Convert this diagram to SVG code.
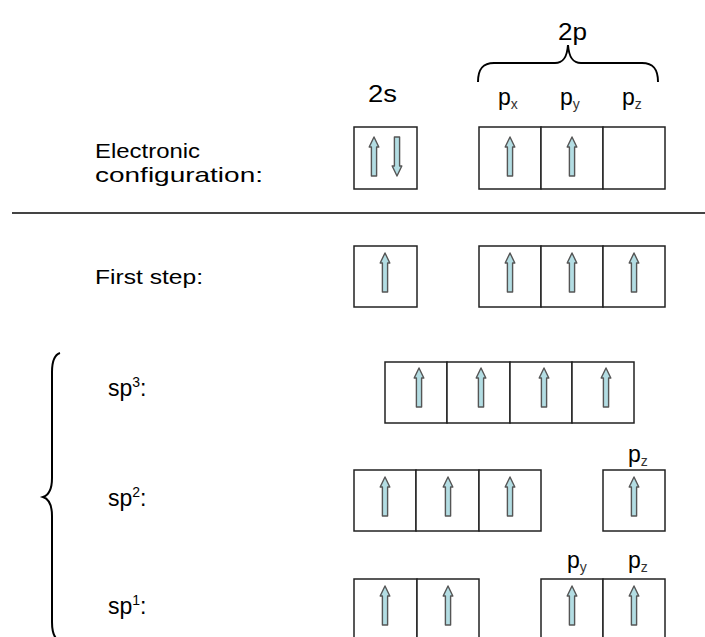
<svg xmlns="http://www.w3.org/2000/svg" xmlns:xlink="http://www.w3.org/1999/xlink" width="705" height="637" viewBox="0 0 705 637">
  <style>
    .lbl { font-family: "Liberation Sans", Arial, sans-serif; font-size: 21px; fill: #000; }
    .orb { font-family: "Liberation Sans", Arial, sans-serif; font-size: 23px; fill: #000; }
    .sub { font-size: 14px; fill: #333; }
    .sup { font-size: 14px; }
    .box { fill: #fff; stroke: #222; stroke-width: 1.5; }
    .brace { fill: none; stroke: #000; stroke-width: 2; }
    .rule { stroke: #444; stroke-width: 2; }
  </style>
  <defs>
    <!-- spin arrow, tip at origin pointing up -->
    <path id="up" d="M0,0 L4.8,10 L2.6,10 L2.6,39 L-2.6,39 L-2.6,10 L-4.8,10 Z" fill="#b3dde3" stroke="#555" stroke-width="1.4" stroke-linejoin="round"/>
  </defs>
  <rect width="705" height="637" fill="#fff"/>

  <!-- header labels -->
  <g id="header">
    <text class="orb" x="368" y="102" textLength="29" lengthAdjust="spacingAndGlyphs">2s</text>
    <text class="orb" x="558" y="40" textLength="29" lengthAdjust="spacingAndGlyphs">2p</text>
    <path class="brace" d="M478,82 C478,70 482,63 494,63 L555,63 C563,63 567,58 568,45 C569,58 573,63 581,63 L642,63 C654,63 658,70 658,82"/>
    <text class="orb" x="498" y="105">p<tspan class="sub" dy="4">x</tspan></text>
    <text class="orb" x="560" y="105">p<tspan class="sub" dy="4">y</tspan></text>
    <text class="orb" x="622" y="105">p<tspan class="sub" dy="4">z</tspan></text>
  </g>

  <!-- ground-state configuration -->
  <g id="electronic-configuration">
    <text class="lbl" x="95" y="158" textLength="105" lengthAdjust="spacingAndGlyphs">Electronic</text>
    <text class="lbl" x="95" y="182" textLength="168" lengthAdjust="spacingAndGlyphs">configuration:</text>
    <rect class="box" x="354" y="127" width="63" height="62"/>
    <use xlink:href="#up" x="374" y="137"/>
    <use xlink:href="#up" transform="translate(397,176) rotate(180)"/>
    <rect class="box" x="479" y="127" width="62" height="62"/>
    <rect class="box" x="541" y="127" width="62" height="62"/>
    <rect class="box" x="603" y="127" width="62" height="62"/>
    <use xlink:href="#up" x="510" y="137"/>
    <use xlink:href="#up" x="572" y="137"/>
  </g>

  <line class="rule" x1="12" y1="213" x2="705" y2="213"/>

  <!-- promotion of one 2s electron -->
  <g id="first-step">
    <text class="lbl" x="95" y="284" textLength="108" lengthAdjust="spacingAndGlyphs">First step:</text>
    <rect class="box" x="354" y="246" width="63" height="61"/>
    <use xlink:href="#up" x="385" y="253"/>
    <rect class="box" x="479" y="246" width="62" height="61"/>
    <rect class="box" x="541" y="246" width="62" height="61"/>
    <rect class="box" x="603" y="246" width="62" height="61"/>
    <use xlink:href="#up" x="510" y="253"/>
    <use xlink:href="#up" x="572" y="253"/>
    <use xlink:href="#up" x="634" y="253"/>
  </g>

  <!-- brace grouping the hybridisation schemes -->
  <path id="hybrid-brace" class="brace" d="M60,353 C54,355 52,362 52,372 L52,478 C52,490 49,495 43,497 C49,499 52,504 52,516 L52,622 C52,632 54,639 60,641"/>

  <g id="sp3">
    <text class="lbl" x="108" y="396" style="font-size:23px">sp<tspan class="sup" dy="-9">3</tspan><tspan dy="9">:</tspan></text>
    <rect class="box" x="385" y="362" width="62" height="61"/>
    <rect class="box" x="447" y="362" width="63" height="61"/>
    <rect class="box" x="510" y="362" width="62" height="61"/>
    <rect class="box" x="572" y="362" width="62" height="61"/>
    <use xlink:href="#up" x="419" y="368"/>
    <use xlink:href="#up" x="481" y="368"/>
    <use xlink:href="#up" x="544" y="368"/>
    <use xlink:href="#up" x="606" y="368"/>
  </g>

  <g id="sp2">
    <text class="lbl" x="108" y="506" style="font-size:23px">sp<tspan class="sup" dy="-9">2</tspan><tspan dy="9">:</tspan></text>
    <rect class="box" x="354" y="470" width="62" height="61"/>
    <rect class="box" x="416" y="470" width="63" height="61"/>
    <rect class="box" x="479" y="470" width="62" height="61"/>
    <use xlink:href="#up" x="385" y="477"/>
    <use xlink:href="#up" x="448" y="477"/>
    <use xlink:href="#up" x="510" y="477"/>
    <text class="orb" x="628" y="462">p<tspan class="sub" dy="4">z</tspan></text>
    <rect class="box" x="603" y="470" width="62" height="61"/>
    <use xlink:href="#up" x="634" y="477"/>
  </g>

  <g id="sp1">
    <text class="lbl" x="108" y="614" style="font-size:23px">sp<tspan class="sup" dy="-9">1</tspan><tspan dy="9">:</tspan></text>
    <rect class="box" x="354" y="579" width="63" height="62"/>
    <rect class="box" x="417" y="579" width="62" height="62"/>
    <use xlink:href="#up" x="385" y="586"/>
    <use xlink:href="#up" x="448" y="586"/>
    <text class="orb" x="567" y="568">p<tspan class="sub" dy="4">y</tspan></text>
    <text class="orb" x="628" y="568">p<tspan class="sub" dy="4">z</tspan></text>
    <rect class="box" x="541" y="579" width="62" height="62"/>
    <rect class="box" x="603" y="579" width="62" height="62"/>
    <use xlink:href="#up" x="572" y="586"/>
    <use xlink:href="#up" x="634" y="586"/>
  </g>
</svg>
